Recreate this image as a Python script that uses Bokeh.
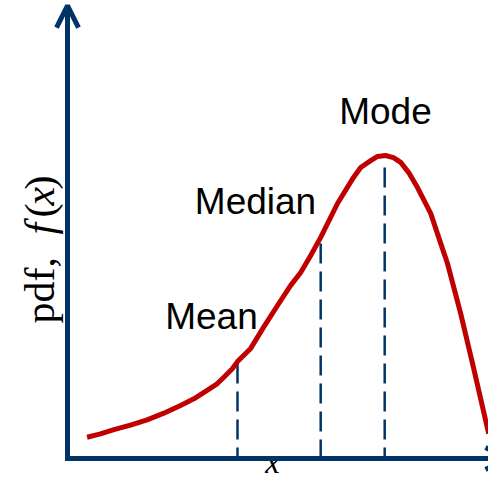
import math
from bokeh.plotting import figure
from bokeh.models import Range1d, Arrow, OpenHead
from bokeh.core.properties import value
from bokeh.embed import file_html
from bokeh.resources import INLINE

# ---- data (x in arbitrary units, pdf values) ----
curve_x = [0.49, 0.825, 1.16, 1.575, 1.99, 2.41, 2.825, 3.16, 3.49, 3.74, 3.91,
           4.12, 4.25, 4.58, 4.9, 5.25, 5.58, 5.83, 6.08, 6.33, 6.75, 7.15,
           7.33, 7.58, 7.75, 7.95, 8.15, 8.33, 8.53, 8.75, 9.08, 9.33, 9.5,
           9.83, 10.15, 10.53]
curve_pdf = [0.071, 0.082, 0.096, 0.111, 0.129, 0.151, 0.177, 0.199, 0.227,
             0.249, 0.271, 0.299, 0.323, 0.367, 0.437, 0.51, 0.577, 0.62,
             0.677, 0.737, 0.85, 0.937, 0.97, 0.993, 1.007, 1.01, 1.003,
             0.987, 0.953, 0.903, 0.817, 0.717, 0.65, 0.483, 0.303, 0.083]

stat_names = ["Mean", "Median", "Mode"]
stat_x = [4.25, 6.33, 7.93]
stat_top = [0.317, 0.717, 0.97]

x_label = "x"
y_label_parts = ["pdf,", "f", "(", "x", ")"]

# ---- layout / style ----
NAVY = "#003366"
RED = "#c00000"
label_x = [3.6, 4.7, 7.95]
label_y = [0.473, 0.857, 1.157]
ylab_style = ["normal", "italic", "normal", "italic", "normal"]
ylab_pos = [0.45, 0.747, 0.803, 0.843, 0.897]
ylab_base = -0.70

p = figure(width=488, height=482,
           x_range=Range1d(-1.675, 10.525), y_range=Range1d(-0.08, 1.5267),
           output_backend="svg", toolbar_location=None, min_border=0,
           x_axis_location=None, y_axis_location=None)
p.grid.visible = False
p.outline_line_color = None
p.background_fill_color = "white"
p.border_fill_color = "white"

# axes drawn as arrows
p.add_layout(Arrow(end=OpenHead(size=22, line_color=NAVY, line_width=5),
                   x_start=0, y_start=-0.0083, x_end=0, y_end=1.51,
                   line_color=NAVY, line_width=5))
p.add_layout(Arrow(end=OpenHead(size=22, line_color=NAVY, line_width=5),
                   x_start=-0.0625, y_start=0, x_end=11.0, y_end=0,
                   line_color=NAVY, line_width=5))

# dashed markers
p.segment(x0=stat_x, y0=stat_top, x1=stat_x, y1=[0] * len(stat_x),
          line_color=NAVY, line_width=2.5, line_dash="20 8")

# pdf curve
p.line(curve_x, curve_pdf, line_color=RED, line_width=5, line_join="round",
       line_cap="butt")

# statistic labels
p.text(x=label_x, y=label_y, text=stat_names,
       text_font=value("Liberation Sans"), text_font_size=value("37px"),
       text_align="center", text_baseline="alphabetic", text_color="black")

# x label
p.text(x=[5.125], y=[-0.01], text=[x_label],
       text_font=value("Liberation Serif"), text_font_size=value("33px"),
       text_font_style="italic", text_align="center",
       text_baseline="alphabetic", text_color="black")

# y label pieces, rotated
for part, style, pos in zip(y_label_parts, ylab_style, ylab_pos):
    p.text(x=[ylab_base], y=[pos], text=[part], angle=math.pi / 2,
           text_font=value("Liberation Serif"), text_font_size=value("42px"),
           text_font_style=style, text_align="left",
           text_baseline="alphabetic", text_color="black")

open("out.html", "w").write(file_html(p, INLINE))
